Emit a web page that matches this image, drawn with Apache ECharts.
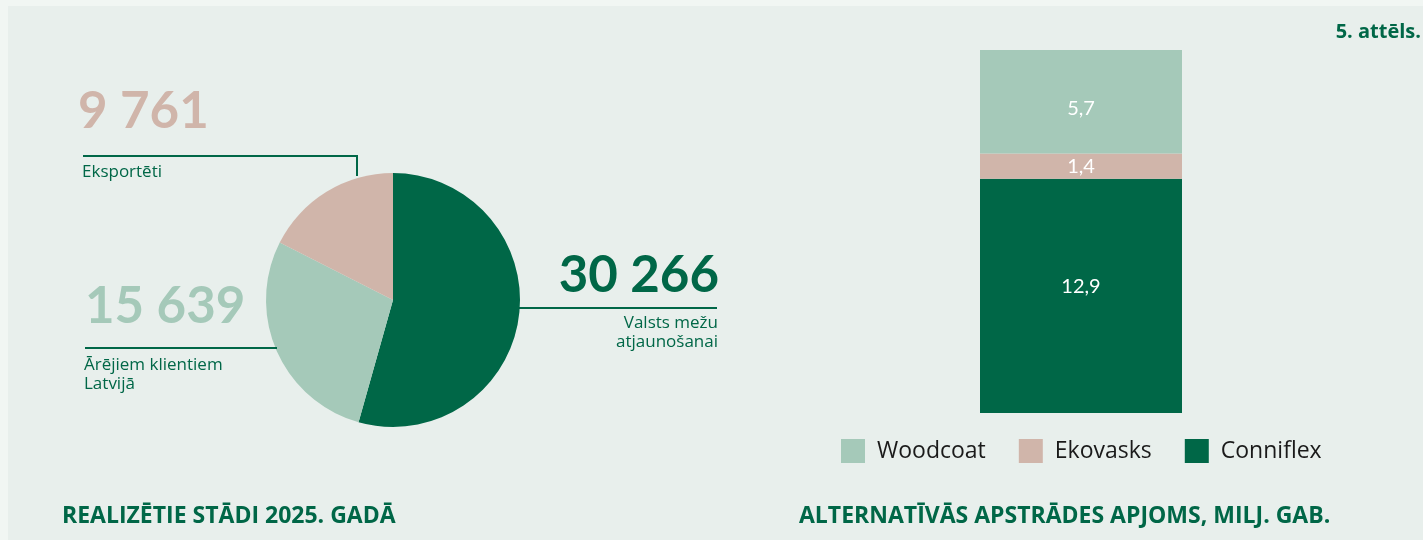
<!DOCTYPE html>
<html><head><meta charset="utf-8">
<script src="https://cdn.jsdelivr.net/npm/echarts@6/dist/echarts.min.js"></script>
<style>html,body{margin:0;padding:0;background:#f1f6f3;}#c{width:1423px;height:540px;}</style>
</head><body><div id="c"></div>
<script>
// Pie data
const pieNames = ['Valsts mežu atjaunošanai', 'Ārējiem klientiem Latvijā', 'Eksportēti'];
const pieValues = [30266, 15639, 9761];
const pieColors = ['#006747', '#a5c9b9', '#d0b5aa'];
// Stacked bar data
const barCategories = ['2025'];
const barSeriesNames = ['Conniflex', 'Ekovasks', 'Woodcoat'];
const barValues = [[12.9], [1.4], [5.7]];
const barColors = ['#006747', '#d0b5aa', '#a5c9b9'];
const legendOrder = ['Woodcoat', 'Ekovasks', 'Conniflex'];
const titleLeft = 'REALIZĒTIE STĀDI 2025. GADĀ';
const titleRight = 'ALTERNATĪVĀS APSTRĀDES APJOMS, MILJ. GAB.';
const figLabel = '5. attēls.';

const green = '#006747';
const font = 'Lato';
const font2 = '"Open Sans"';
function fmt(n){return String(n).replace(/\B(?=(\d{3})+(?!\d))/g,' ');}
function fmtDec(v){return String(v).replace('.',',');}

const chart = echarts.init(document.getElementById('c'));
const bigText = (x, y, txt, color, align) => ({type:'text', x, y, style:{text:txt, fill:color, font:'bold 51px '+font, textAlign:align||'left', textVerticalAlign:'middle'}, z:10});
const smallText = (x, y, txt, align) => ({type:'text', x, y, style:{text:txt, fill:green, font:'17px '+font2, textAlign:align||'left', textVerticalAlign:'middle', lineHeight:19}, z:10});
const line = (pts) => ({type:'polyline', shape:{points:pts}, style:{stroke:green, lineWidth:2, fill:null}, z:10});
const labelOffsets = [[0,-9],[0,0],[0,7]];

chart.setOption({
  backgroundColor: '#f1f6f3',
  textStyle: {fontFamily: font2},
  graphic: [
    {type:'rect', shape:{x:8, y:6, width:1415, height:534}, style:{fill:'#e8efec'}, z:-10},
    bigText(78, 112, fmt(pieValues[2]), pieColors[2]),
    line([[83,156],[357,156],[357,176]]),
    smallText(82, 172, 'Eksportēti'),
    bigText(85, 307, fmt(pieValues[1]), pieColors[1]),
    line([[85,348],[277,348]]),
    smallText(84, 375, 'Ārējiem klientiem\nLatvijā'),
    bigText(719, 276, fmt(pieValues[0]), pieColors[0], 'right'),
    line([[518,308],[717,308]]),
    smallText(718, 333, 'Valsts mežu\natjaunošanai', 'right'),
    {type:'text', x:62, y:516, style:{text:titleLeft, fill:green, font:'bold 23px '+font2, textVerticalAlign:'middle'}},
    {type:'text', x:799, y:516, style:{text:titleRight, fill:green, font:'bold 23px '+font2, textVerticalAlign:'middle'}},
    {type:'text', x:1421, y:32, style:{text:figLabel, fill:green, font:'bold 20px '+font2, textAlign:'right', textVerticalAlign:'middle'}}
  ],
  legend: {
    data: legendOrder, left: 836, top: 434, itemWidth: 24, itemHeight: 24, itemGap: 33,
    icon: 'rect', textStyle: {fontSize: 23, color: '#1a1a1a', fontFamily: font2, padding:[0,0,0,7]}
  },
  grid: {left: 880, right: 141, top: 50, bottom: 127},
  xAxis: {type:'category', data: barCategories, show:false},
  yAxis: {type:'value', min:0, max:20, show:false},
  series: [
    {type:'pie', radius: 127, center:[393,300], startAngle:90, clockwise:true,
     label:{show:false}, labelLine:{show:false}, silent:true,
     itemStyle:{borderWidth:0},
     data: pieNames.map((n,i)=>({name:n, value:pieValues[i], itemStyle:{color:pieColors[i]}}))},
    ...barSeriesNames.map((n,i)=>({
      type:'bar', name:n, stack:'s', barWidth:202, data: barValues[i],
      itemStyle:{color:barColors[i]},
      label:{show:true, position:'inside', offset:labelOffsets[i], color:'#fff', fontSize:20, fontFamily:font, formatter:p=>fmtDec(p.value)}
    }))
  ]
});
</script></body></html>
